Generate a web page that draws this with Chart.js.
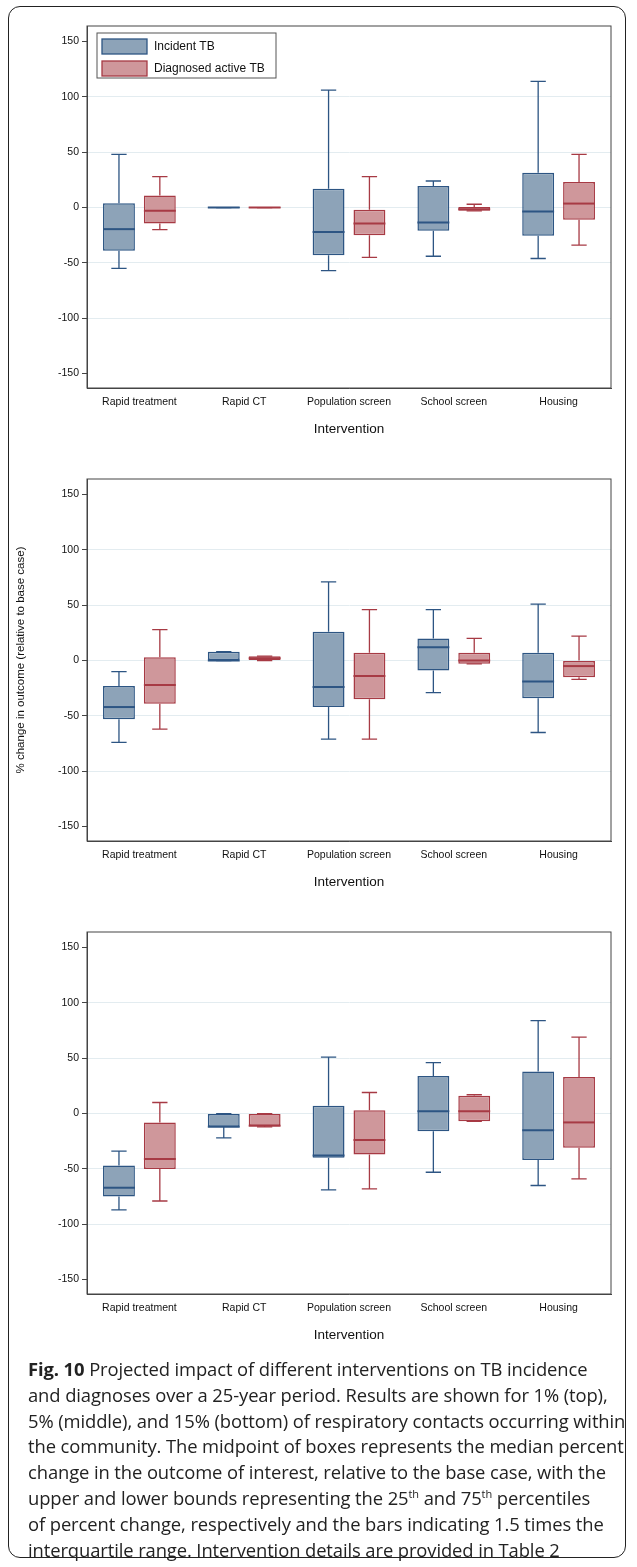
<!DOCTYPE html>
<html>
<head>
<meta charset="utf-8">
<script src="https://cdn.jsdelivr.net/npm/chart.js@4"></script>
<style>
  body { margin:0; background:#fff; width:637px; height:1567px; position:relative; font-family:"Liberation Sans", Arial, sans-serif; overflow:hidden; }
  #frame { position:absolute; left:8px; top:6px; width:618px; height:1552px; border:1.5px solid #222; border-radius:12px; box-sizing:border-box; }
  .panel { position:absolute; left:10px; width:615px; height:453px; }
  #caption { position:absolute; left:28px; top:1356px; width:600px; font-family:"Open Sans", sans-serif; font-size:18.4px; line-height:25.8px; letter-spacing:-0.1px; color:#222; white-space:nowrap; }
  #caption b { font-weight:700; }
  sup { font-size:11px; line-height:0; }
</style>
</head>
<body>
<div id="frame"></div>
<div class="panel" style="top:0"><canvas id="c1" width="615" height="453"></canvas></div>
<div class="panel" style="top:453px"><canvas id="c2" width="615" height="453"></canvas></div>
<div class="panel" style="top:906px"><canvas id="c3" width="615" height="453"></canvas></div>
<div id="caption"><b>Fig. 10</b> Projected impact of different interventions on TB incidence<br>and diagnoses over a 25-year period. Results are shown for 1% (top),<br>5% (middle), and 15% (bottom) of respiratory contacts occurring within<br>the community. The midpoint of boxes represents the median percent<br>change in the outcome of interest, relative to the base case, with the<br>upper and lower bounds representing the 25<sup>th</sup> and 75<sup>th</sup> percentiles<br>of percent change, respectively and the bars indicating 1.5 times the<br>interquartile range. Intervention details are provided in Table 2</div>
<script>
const categories = ["Rapid treatment", "Rapid CT", "Population screen", "School screen", "Housing"];
const yTicks = [150, 100, 50, 0, -50, -100, -150];

// each box: [low whisker, q1, median, q3, high whisker]
const top_incident = [[-55,-39,-19.5,4,48],[0,0,0,0,0],[-57,-43,-22,17,106],[-44,-21,-13.5,19.5,24],[-46,-25.5,-3.6,31.5,114]];
const top_diagnosed = [[-20,-14.5,-3,11,28],[0,0,0,0,0],[-45,-25,-14.5,-2,28],[-3,-3,-1.5,0.5,3],[-34,-11,3.6,23,48]];
const mid_incident = [[-74,-53,-42,-23,-10],[0,0,0,8,8],[-71,-42,-24,26,71],[-29,-9,12,20,46],[-65,-34,-19,7,51]];
const mid_diagnosed = [[-62,-39,-22,3,28],[0,0,2,4,4],[-71,-35,-14,7,46],[-3,-3,0,7,20],[-17,-15,-5,0,22]];
const bot_incident = [[-87,-75,-67,-47,-34],[-22,-12,-12,0,0],[-69,-40,-38,7,51],[-53,-16,2,34,46],[-65,-42,-15,38,84]];
const bot_diagnosed = [[-79,-50,-41,-8,10],[-12,-11,-11,0,0],[-68,-37,-24,3,19],[-7,-7,2,16,17],[-59,-31,-8,33,69]];

const blueFill = "#8da3b8", blueLine = "#2d5583";
const redFill = "#cf979b", redLine = "#a73a44";

const boxPlugin = {
  id: "boxes",
  afterDatasetsDraw(chart) {
    const ctx = chart.ctx, y = chart.scales.y, a = chart.chartArea;
    chart.data.datasets.forEach((ds, di) => {
      const meta = chart.getDatasetMeta(di);
      meta.data.forEach((bar, i) => {
        const b = ds.boxes[i], x = bar.x, w = bar.width;
        ctx.save();
        ctx.strokeStyle = ds.borderColor; ctx.lineWidth = 1.3;
        ctx.beginPath();
        ctx.moveTo(x, y.getPixelForValue(b[3])); ctx.lineTo(x, y.getPixelForValue(b[4]));
        ctx.moveTo(x, y.getPixelForValue(b[1])); ctx.lineTo(x, y.getPixelForValue(b[0]));
        const cw = w * 0.48;
        ctx.moveTo(x - cw/2, y.getPixelForValue(b[4])); ctx.lineTo(x + cw/2, y.getPixelForValue(b[4]));
        ctx.moveTo(x - cw/2, y.getPixelForValue(b[0])); ctx.lineTo(x + cw/2, y.getPixelForValue(b[0]));
        ctx.stroke();
        ctx.lineWidth = 2;
        ctx.beginPath();
        ctx.moveTo(x - w/2, y.getPixelForValue(b[2])); ctx.lineTo(x + w/2, y.getPixelForValue(b[2]));
        ctx.stroke();
        ctx.restore();
      });
    });
    // plot frame
    ctx.save();
    ctx.strokeStyle = "#444"; ctx.lineWidth = 1;
    ctx.strokeRect(a.left, a.top, a.right - a.left, a.bottom - a.top);
    ctx.restore();
    if (chart.options.plugins.boxLegend) {
      const lx = a.left + 10, ly = a.top + 7;
      ctx.save();
      ctx.fillStyle = "#fff"; ctx.strokeStyle = "#555"; ctx.lineWidth = 1;
      ctx.fillRect(lx, ly, 179, 45); ctx.strokeRect(lx, ly, 179, 45);
      chart.data.datasets.forEach((ds, di) => {
        const ry = ly + 6 + di * 22;
        ctx.fillStyle = ds.backgroundColor; ctx.strokeStyle = ds.borderColor; ctx.lineWidth = 1.3;
        ctx.fillRect(lx + 5, ry, 45, 15); ctx.strokeRect(lx + 5, ry, 45, 15);
        ctx.fillStyle = "#111"; ctx.font = "12px 'Liberation Sans', Arial"; ctx.textBaseline = "middle";
        ctx.fillText(ds.label, lx + 57, ry + 8);
      });
      ctx.restore();
    }
  }
};

function makeChart(id, incident, diagnosed, yTitle, legend) {
  const mk = (label, boxes, fill, line) => ({
    label, boxes,
    data: boxes.map(b => [b[1], b[3]]),
    backgroundColor: fill, borderColor: line, borderWidth: 1.5, borderSkipped: false,
    categoryPercentage: 0.78, barPercentage: 0.78, minBarLength: 1
  });
  new Chart(document.getElementById(id), {
    type: "bar",
    data: { labels: categories, datasets: [
      mk("Incident TB", incident, blueFill, blueLine),
      mk("Diagnosed active TB", diagnosed, redFill, redLine)
    ]},
    options: {
      responsive: false, animation: false,
      layout: { padding: { top: 26, right: 14, left: 0, bottom: 12 } },
      plugins: { legend: { display: false }, tooltip: { enabled: false }, boxLegend: legend },
      scales: {
        x: {
          grid: { display: false },
          border: { color: "#444" },
          ticks: { color: "#111", font: { size: 10.5, family: "'Liberation Sans', Arial" }, padding: 0 },
          title: { display: true, text: "Intervention", color: "#111", font: { size: 13.5, family: "'Liberation Sans', Arial" }, padding: { top: 2 } },
          afterFit: s => { s.height = 53; }
        },
        y: {
          min: -163, max: 164,
          afterBuildTicks: s => { s.ticks = yTicks.map(v => ({ value: v })); },
          grid: { color: c => (Math.abs(c.tick.value) === 150 ? "rgba(0,0,0,0)" : "#e3ecf0"), tickColor: "#444", tickLength: 5 },
          border: { color: "#444" },
          ticks: { color: "#111", font: { size: 10.5, family: "'Liberation Sans', Arial" }, padding: 3 },
          title: { display: !!yTitle, text: yTitle || "", color: "#111", font: { size: 11.5, family: "'Liberation Sans', Arial" } },
          afterFit: s => { s.width = 77; }
        }
      }
    },
    plugins: [boxPlugin]
  });
}

makeChart("c1", top_incident, top_diagnosed, null, true);
makeChart("c2", mid_incident, mid_diagnosed, "% change in outcome (relative to base case)", false);
makeChart("c3", bot_incident, bot_diagnosed, null, false);
</script>
</body>
</html>
